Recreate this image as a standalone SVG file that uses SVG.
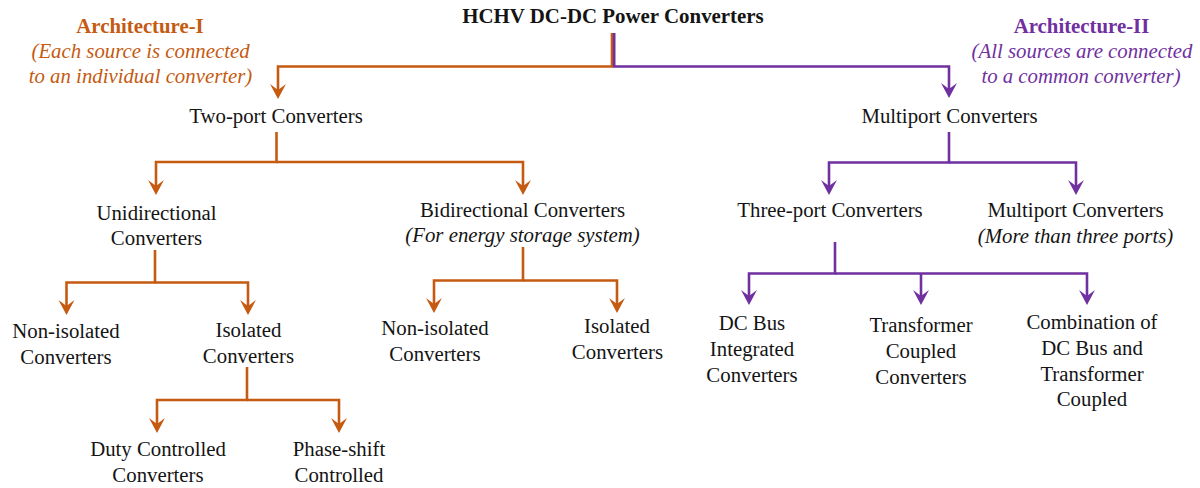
<svg xmlns="http://www.w3.org/2000/svg" width="1200" height="488" viewBox="0 0 1200 488">
  <style>
    text { font-family: "Liberation Serif", "Times New Roman", serif; font-size: 20.8px; fill: #141414; text-anchor: middle; }
    .title { font-weight: bold; font-size: 20.9px; }
    .archA { fill: #C55A11; }
    .archB { fill: #7030A0; }
    .head { font-weight: bold; }
    .note { font-style: italic; }
    .wire { fill: none; stroke-width: 2.6; stroke-linejoin: miter; }
    .wa { stroke: #C55A11; }
    .wb { stroke: #7030A0; }
  </style>
  <defs>
    <marker id="arrA" markerUnits="userSpaceOnUse" markerWidth="16" markerHeight="17" viewBox="0 -8.5 16 17" refX="6" refY="0" orient="auto">
      <path d="M0,-8 L15,0 L0,8 L6,0 Z" fill="#C55A11"/>
    </marker>
    <marker id="arrB" markerUnits="userSpaceOnUse" markerWidth="16" markerHeight="17" viewBox="0 -8.5 16 17" refX="6" refY="0" orient="auto">
      <path d="M0,-8 L15,0 L0,8 L6,0 Z" fill="#7030A0"/>
    </marker>
  </defs>

  <!-- connectors -->
  <g id="connectors">
    <g class="wire wa">
      <path d="M612,33 V66.5 H278 V90" marker-end="url(#arrA)"/>
      <path d="M276.5,132 V162 H156 V186" marker-end="url(#arrA)"/>
      <path d="M276.5,162 H523 V186" marker-end="url(#arrA)"/>
      <path d="M155,250 V282.5 H66.5 V306" marker-end="url(#arrA)"/>
      <path d="M155,282.5 H248 V306" marker-end="url(#arrA)"/>
      <path d="M247,367 V400 H157 V424" marker-end="url(#arrA)"/>
      <path d="M247,400 H339 V424" marker-end="url(#arrA)"/>
      <path d="M523,247 V280.5 H434 V304" marker-end="url(#arrA)"/>
      <path d="M523,280.5 H617 V304" marker-end="url(#arrA)"/>
    </g>
    <g class="wire wb">
      <path d="M614.2,33 V66.5 H949 V89" marker-end="url(#arrB)"/>
      <path d="M949,132 V162.5 H829 V186" marker-end="url(#arrB)"/>
      <path d="M949,162.5 H1076 V186" marker-end="url(#arrB)"/>
      <path d="M835,242 V273.5 H749 V296" marker-end="url(#arrB)"/>
      <path d="M835,273.5 H1087 V296" marker-end="url(#arrB)"/>
      <path d="M921,273.5 V296" marker-end="url(#arrB)"/>
    </g>
  </g>

  <!-- root -->
  <g id="root"><text class="title" x="613" y="23">HCHV DC-DC Power Converters</text></g>

  <!-- architecture captions -->
  <g id="arch-1">
    <text class="archA head" x="140" y="33">Architecture-I</text>
    <text class="archA note" x="140.5" y="58">(Each source is connected</text>
    <text class="archA note" x="140.5" y="83">to an individual converter)</text>
  </g>
  <g id="arch-2">
    <text class="archB head" x="1081.5" y="33">Architecture-II</text>
    <text class="archB note" x="1082" y="58">(All sources are connected</text>
    <text class="archB note" x="1081" y="83">to a common converter)</text>
  </g>

  <!-- architecture I branch -->
  <g id="two-port"><text x="276" y="123">Two-port Converters</text></g>
  <g id="unidirectional">
    <text x="156.5" y="220">Unidirectional</text>
    <text x="156.5" y="245">Converters</text>
  </g>
  <g id="bidirectional">
    <text x="522.5" y="217">Bidirectional Converters</text>
    <text class="note" x="522.5" y="242">(For energy storage system)</text>
  </g>
  <g id="uni-nonisolated">
    <text x="66" y="338">Non-isolated</text>
    <text x="66" y="364">Converters</text>
  </g>
  <g id="uni-isolated">
    <text x="248.5" y="337">Isolated</text>
    <text x="248.5" y="363">Converters</text>
  </g>
  <g id="duty-controlled">
    <text x="158" y="456">Duty Controlled</text>
    <text x="158" y="482">Converters</text>
  </g>
  <g id="phase-shift">
    <text x="339" y="456">Phase-shift</text>
    <text x="339" y="482">Controlled</text>
  </g>
  <g id="bi-nonisolated">
    <text x="435" y="335">Non-isolated</text>
    <text x="435" y="361">Converters</text>
  </g>
  <g id="bi-isolated">
    <text x="617" y="333">Isolated</text>
    <text x="617.5" y="359">Converters</text>
  </g>

  <!-- architecture II branch -->
  <g id="multiport"><text x="949.5" y="123">Multiport Converters</text></g>
  <g id="three-port"><text x="830" y="217">Three-port Converters</text></g>
  <g id="multiport-more">
    <text x="1075.5" y="217">Multiport Converters</text>
    <text class="note" x="1075.5" y="243">(More than three ports)</text>
  </g>
  <g id="dc-bus">
    <text x="752" y="330">DC Bus</text>
    <text x="752" y="356">Integrated</text>
    <text x="752" y="382">Converters</text>
  </g>
  <g id="transformer-coupled">
    <text x="921" y="332">Transformer</text>
    <text x="921" y="358">Coupled</text>
    <text x="921" y="384">Converters</text>
  </g>
  <g id="combination">
    <text x="1092" y="329">Combination of</text>
    <text x="1092" y="355">DC Bus and</text>
    <text x="1092" y="381">Transformer</text>
    <text x="1092" y="406">Coupled</text>
  </g>
</svg>
